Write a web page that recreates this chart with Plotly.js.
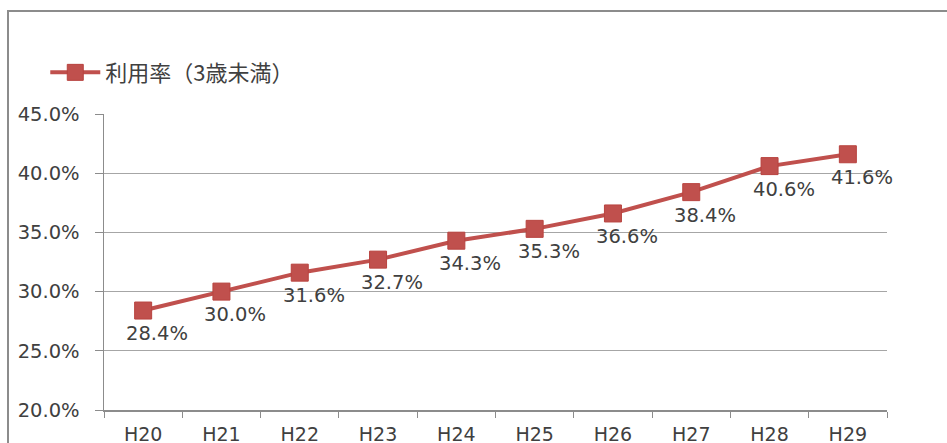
<!DOCTYPE html>
<html><head><meta charset="utf-8">
<script src="https://cdn.plot.ly/plotly-3.0.1.min.js"></script>
<style>
body{margin:0;padding:0;background:#fff;}
#wrap{position:relative;width:947px;height:443px;overflow:hidden;}
#chart{position:absolute;left:0;top:0;width:947px;height:443px;}
#frame{position:absolute;left:7px;top:10px;width:1000px;height:500px;border:2px solid #8c8c8c;box-sizing:border-box;pointer-events:none;}
</style></head>
<body><div id="wrap"><div id="frame"></div><div id="chart"></div></div>
<script>
const categories = ["H20","H21","H22","H23","H24","H25","H26","H27","H28","H29"];
const usageRate = [28.4, 30.0, 31.6, 32.7, 34.3, 35.3, 36.6, 38.4, 40.6, 41.6];
const seriesName = "利用率（3歳未満）";
const yTicks = [20, 25, 30, 35, 40, 45];

const red = "#c0504d";
const textColor = "#404040";
const numFont = "DejaVu Sans, Noto Sans CJK JP, sans-serif";

const trace = {
  x: categories, y: usageRate, type: "scatter", mode: "lines+markers",
  name: seriesName,
  line: {color: red, width: 4},
  marker: {symbol: "square", size: 17, color: red, line: {color: "#b8433f", width: 1}},
  cliponaxis: false
};

const labelAnnotations = categories.map((c, i) => ({
  x: c, y: usageRate[i], xref: "x", yref: "y",
  text: usageRate[i].toFixed(1) + "%", showarrow: false,
  xanchor: "center", yanchor: "middle", xshift: 14, yshift: -23,
  font: {family: numFont, size: 19.5, color: textColor}
}));

const layout = {
  width: 947, height: 443,
  margin: {l: 104, r: 60, t: 114, b: 33},
  paper_bgcolor: "rgba(0,0,0,0)", plot_bgcolor: "rgba(0,0,0,0)",
  showlegend: true,
  annotations: labelAnnotations,
  legend: {x: -0.075, y: 1.14, xanchor: "left", yanchor: "middle", itemwidth: 50,
           font: {family: "Noto Sans CJK JP, sans-serif", size: 22, color: textColor},
           bgcolor: "rgba(0,0,0,0)"},
  xaxis: {type: "category", showline: true, linecolor: "#8c8c8c", linewidth: 1.5,
          ticks: "outside", tickson: "boundaries", ticklen: 6, tickcolor: "#8c8c8c",
          ticklabelstandoff: 7,
          showgrid: false, tickfont: {family: numFont, size: 19, color: textColor},
          range: [-0.5, 9.5], fixedrange: true},
  yaxis: {range: [20, 45], tickvals: yTicks, ticktext: yTicks.map(v => v.toFixed(1) + "%"),
          showline: true, linecolor: "#8c8c8c", linewidth: 1.5,
          ticks: "outside", ticklen: 8, tickcolor: "#8c8c8c", ticklabelstandoff: 11,
          showgrid: true, gridcolor: "#a6a6a6", gridwidth: 1.2, zeroline: false,
          tickfont: {family: numFont, size: 19.5, color: textColor}, fixedrange: true}
};

Plotly.newPlot("chart", [trace], layout, {displayModeBar: false, staticPlot: true});
</script></body></html>
